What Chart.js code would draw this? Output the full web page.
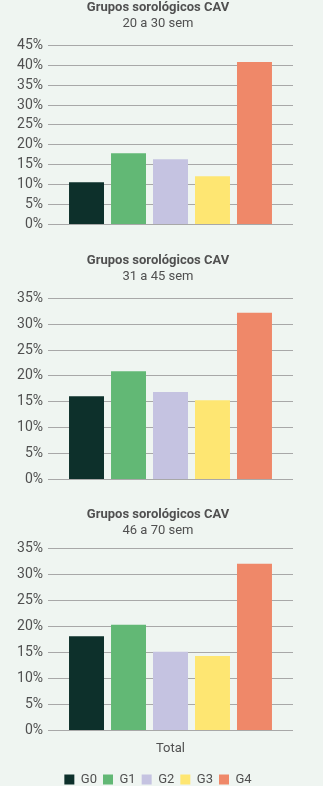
<!DOCTYPE html>
<html>
<head>
<meta charset="utf-8">
<script src="https://cdn.jsdelivr.net/npm/chart.js@4.4.1/dist/chart.umd.min.js"></script>
<style>
  html, body { margin: 0; padding: 0; background: #eff5f1; }
  body { width: 323px; height: 786px; position: relative; overflow: hidden; }
  .box { position: absolute; left: 0; width: 323px; }
</style>
</head>
<body>
<div class="box" id="b1" style="top:0px;height:238px"><canvas id="c1"></canvas></div>
<div class="box" id="b2" style="top:253px;height:240px"><canvas id="c2"></canvas></div>
<div class="box" id="b3" style="top:507px;height:289px"><canvas id="c3"></canvas></div>
<script>
// data
const categories = ['Total'];
const groups = ['G0', 'G1', 'G2', 'G3', 'G4'];
const groupColors = ['#0d302b', '#62b875', '#c5c3e1', '#fee672', '#ef8869'];
const sem20a30 = [10.6, 17.9, 16.4, 12.1, 40.8];
const sem31a45 = [16.1, 20.9, 16.9, 15.3, 32.2];
const sem46a70 = [18.1, 20.3, 15.1, 14.3, 32.0];
const yMax1 = 45, yMax2 = 35, yMax3 = 35;

const textColor = '#505050';

Chart.defaults.font.family = "Roboto, 'Liberation Sans', sans-serif";
Chart.defaults.color = textColor;

function makeChart(id, values, subtitle, yMax, last, subPad) {
    const ctx = document.getElementById(id).getContext('2d');
    return new Chart(ctx, {
        type: 'bar',
        data: {
            labels: categories,
            datasets: groups.map((g, i) => ({
                label: g,
                data: [values[i]],
                backgroundColor: groupColors[i],
                borderWidth: 0,
                barPercentage: 0.833,
                categoryPercentage: 0.857
            }))
        },
        options: {
            responsive: true,
            maintainAspectRatio: false,
            animation: false,
            layout: { padding: { left: 0, right: 7, top: 0, bottom: 0 } },
            plugins: {
                title: {
                    display: true,
                    text: 'Grupos sorológicos CAV',
                    color: textColor,
                    font: { size: 13, weight: 'bold' },
                    padding: { top: 0, bottom: 0 }
                },
                subtitle: {
                    display: true,
                    text: subtitle,
                    color: textColor,
                    font: { size: 13 },
                    padding: { top: 0, bottom: subPad }
                },
                legend: {
                    display: last,
                    position: 'bottom',
                    labels: {
                        boxWidth: 10,
                        boxHeight: 10,
                        padding: 6,
                        color: textColor,
                        font: { size: 13 }
                    }
                },
                tooltip: { enabled: false }
            },
            scales: {
                x: {
                    display: last,
                    afterFit: function(scale) { scale.height += 7; },
                    grid: { display: false },
                    border: { display: false },
                    ticks: { font: { size: 13 }, color: textColor, padding: 3 }
                },
                y: {
                    min: 0,
                    max: yMax,
                    afterFit: function(scale) { scale.width = 48; },
                    ticks: {
                        stepSize: 5,
                        padding: 5,
                        font: { size: 14 },
                        color: textColor,
                        callback: v => v + '%'
                    },
                    grid: { color: '#a8a8a8', lineWidth: 1, drawTicks: false },
                    border: { display: false }
                },
                // empty right axis, only to leave the blank strip right of the plot
                yRight: {
                    position: 'right',
                    grid: { display: false },
                    border: { display: false },
                    ticks: { display: false },
                    afterFit: function(scale) { scale.width = 23; }
                }
            }
        }
    });
}

makeChart('c1', sem20a30, '20 a 30 sem', yMax1, false, 14);
makeChart('c2', sem31a45, '31 a 45 sem', yMax2, false, 14);
makeChart('c3', sem46a70, '46 a 70 sem', yMax3, true, 10);
</script>
</body>
</html>
